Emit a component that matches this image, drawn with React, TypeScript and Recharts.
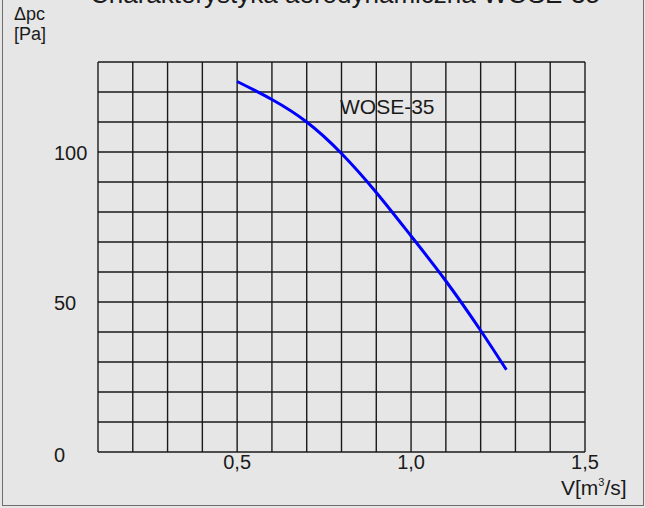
import React from "react";
import { LineChart, Line, XAxis, YAxis, CartesianGrid } from "recharts";

const flowRate = [0.5, 0.6, 0.7, 0.8, 0.9, 1.0, 1.1, 1.2, 1.274];
const pressure = [123.5, 117.5, 110, 99.5, 86.5, 72, 57, 40.5, 27.4];

const xTicks = [0.1, 0.2, 0.3, 0.4, 0.5, 0.6, 0.7, 0.8, 0.9, 1.0, 1.1, 1.2, 1.3, 1.4, 1.5];
const xLabels = [0.5, 1.0, 1.5];
const yTicks = [0, 10, 20, 30, 40, 50, 60, 70, 80, 90, 100, 110, 120, 130];
const yLabels = [0, 50, 100];

const data = flowRate.map((v, i) => ({ v, dp: pressure[i] }));

const FONT = "'Liberation Sans', Arial, sans-serif";
const INK = "#1a1a1a";

const XTick = (props: any) => {
  const { x, y, payload } = props;
  const val = payload.value as number;
  if (!xLabels.some((l) => Math.abs(l - val) < 1e-6)) return <g />;
  return (
    <text x={x} y={y + 2} textAnchor="middle" dominantBaseline="central"
      fontSize={20} fontFamily={FONT} fill={INK}>
      {val.toFixed(1).replace(".", ",")}
    </text>
  );
};

const YTick = (props: any) => {
  const { y, payload } = props;
  const val = payload.value as number;
  if (!yLabels.includes(val)) return <g />;
  return (
    <text x={54} y={val === 0 ? y + 3 : y + 1} textAnchor="start" dominantBaseline="central"
      fontSize={20} fontFamily={FONT} fill={INK}>
      {val}
    </text>
  );
};

const txt: React.CSSProperties = {
  position: "absolute",
  fontFamily: FONT,
  color: INK,
  whiteSpace: "nowrap",
  lineHeight: 1,
};

export default function App() {
  return (
    <div style={{ position: "absolute", left: 0, top: 0, width: 645, height: 508, background: "#e6e6e6", overflow: "hidden" }}>
      <div style={{ position: "absolute", left: 2, top: -2, width: 640, height: 507, borderLeft: "1.5px solid #6e6e6e", borderRight: "1.5px solid #6e6e6e", borderBottom: "1.5px solid #6e6e6e" }} />
      <LineChart width={645} height={508} data={data}
        margin={{ top: 62, right: 60, bottom: 26, left: 0 }}>
        <CartesianGrid stroke={INK} strokeWidth={1.4} />
        <XAxis dataKey="v" type="number" domain={[0.1, 1.5]} ticks={xTicks} interval={0}
          axisLine={false} tickLine={false} height={30} tick={<XTick />} />
        <YAxis type="number" domain={[0, 130]} ticks={yTicks} interval={0}
          axisLine={false} tickLine={false} width={98} tick={<YTick />} />
        <Line dataKey="dp" type="natural" stroke="#0000ff" strokeWidth={3}
          dot={false} isAnimationActive={false} />
      </LineChart>
      <div style={{ ...txt, left: 0, width: 690, top: -19, fontSize: 26, textAlign: "center" }}>
        Charakterystyka aerodynamiczna WOSE-35
      </div>
      <div style={{ ...txt, left: 14, top: 5, fontSize: 18 }}>Δpc</div>
      <div style={{ ...txt, left: 14, top: 25, fontSize: 18 }}>[Pa]</div>
      <div style={{ ...txt, left: 340, top: 96, fontSize: 21 }}>WOSE-35</div>
      <div style={{ ...txt, left: 561, top: 477, fontSize: 21 }}>
        V[m<sup style={{ fontSize: 11, verticalAlign: 9, lineHeight: 0 }}>3</sup>/s]
      </div>
    </div>
  );
}
